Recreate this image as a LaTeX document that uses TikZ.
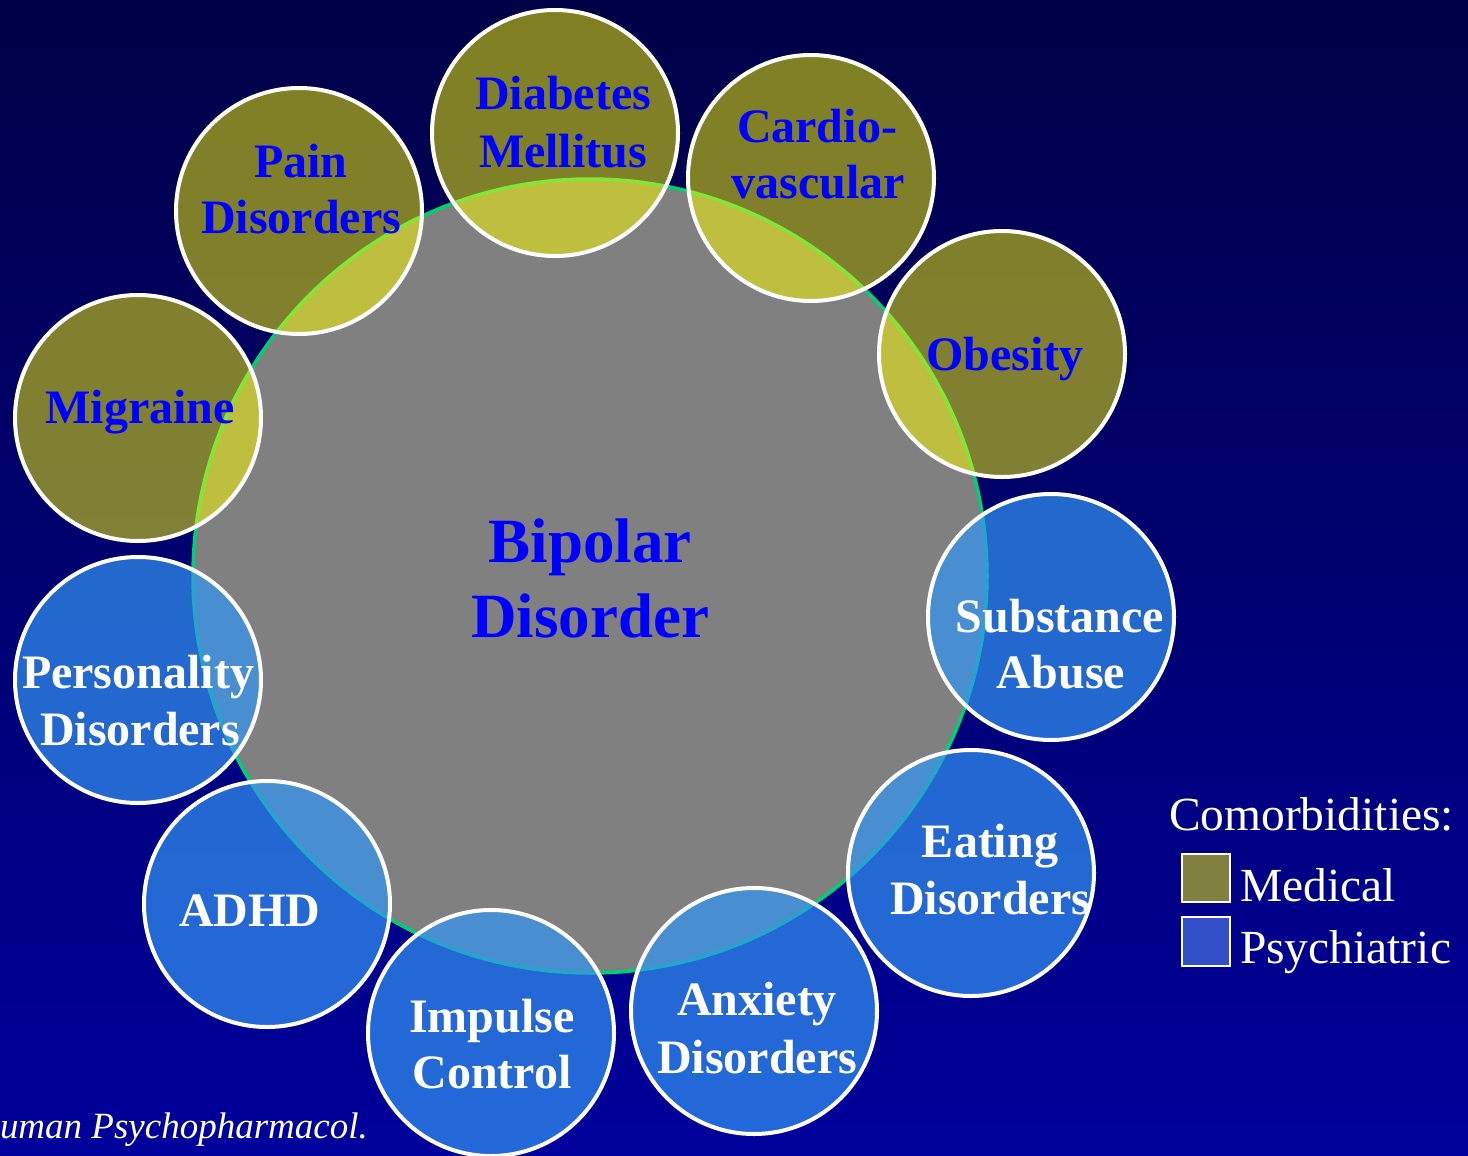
\documentclass[tikz,border=0pt]{standalone}
\usepackage{fontspec}
\setmainfont{Liberation Serif}
\definecolor{bgtop}{RGB}{0,0,70}
\definecolor{bgbot}{RGB}{0,0,156}
\definecolor{bdgray}{RGB}{128,128,128}
\definecolor{ringgreen}{RGB}{0,208,112}
\definecolor{medfill}{RGB}{255,255,0}
\definecolor{psyfill}{RGB}{51,149,244}
\definecolor{medblue}{RGB}{0,0,255}
\definecolor{legmed}{RGB}{128,128,64}
\definecolor{legpsy}{RGB}{52,80,200}
\tikzset{
  medc/.style={circle, minimum size=246pt, inner sep=0pt, outer sep=0pt,
    fill=medfill, fill opacity=0.5, draw=white, draw opacity=1, line width=4pt},
  psyc/.style={circle, minimum size=246pt, inner sep=0pt, outer sep=0pt,
    fill=psyfill, fill opacity=0.7, draw=white, draw opacity=1, line width=4pt},
  medtxt/.style={anchor=base, inner sep=0pt, outer sep=0pt,
    font=\fontsize{48}{56}\selectfont\bfseries, text=medblue},
  psytxt/.style={anchor=base, inner sep=0pt, outer sep=0pt,
    font=\fontsize{48}{56}\selectfont\bfseries, text=white},
  bigtxt/.style={anchor=base, inner sep=0pt, outer sep=0pt,
    font=\fontsize{63}{75}\selectfont\bfseries, text=medblue},
  legtxt/.style={anchor=base west, inner sep=0pt, outer sep=0pt,
    font=\fontsize{47.5}{56}\selectfont, text=white},
  legbox/.style={draw=white, line width=2pt},
}
\begin{document}
\begin{tikzpicture}[x=1pt,y=-1pt]
  % background
  \shade[top color=bgtop, bottom color=bgbot] (0,0) rectangle (1468,1156);
  \useasboundingbox (0,0) rectangle (1468,1156);

  % central circle
  \node[circle, minimum size=794pt, inner sep=0pt, outer sep=0pt,
        fill=bdgray, draw=ringgreen, line width=3.5pt] (bd) at (590,576) {};

  % medical comorbidities
  \node[medc] (dm) at (555,133) {};
  \node[medc] (cv) at (811,178) {};
  \node[medc] (pd) at (299,211) {};
  \node[medc] (mg) at (138,418) {};
  \node[medc] (ob) at (1002,354) {};

  % psychiatric comorbidities
  \node[psyc] (sa) at (1051,617) {};
  \node[psyc] (pe) at (138,680) {};
  \node[psyc] (ed) at (971,873) {};
  \node[psyc] (ad) at (267,904) {};
  \node[psyc] (ax) at (754,1011) {};
  \node[psyc] (ic) at (491,1033) {};

  % central label
  \node[bigtxt] (bd1) at (590,562) {Bipolar};
  \node[bigtxt] (bd2) at (590,637) {Disorder};

  % medical labels
  \node[medtxt] (dm1) at (563,110) {Diabetes};
  \node[medtxt] (dm2) at (563,167) {Mellitus};
  \node[medtxt] (cv1) at (817,142) {Cardio-};
  \node[medtxt] (cv2) at (818,198) {vascular};
  \node[medtxt] (pd1) at (301,177) {Pain};
  \node[medtxt] (pd2) at (301,233) {Disorders};
  \node[medtxt] (mg1) at (140,423) {Migraine};
  \node[medtxt] (ob1) at (1005,370) {Obesity};

  % psychiatric labels
  \node[psytxt] (sa1) at (1060,632) {Substance};
  \node[psytxt] (sa2) at (1061,688) {Abuse};
  \node[psytxt] (pe1) at (138,688) {Personality};
  \node[psytxt] (pe2) at (140,745) {Disorders};
  \node[psytxt] (ed1) at (990,857) {Eating};
  \node[psytxt] (ed2) at (990,914) {Disorders};
  \node[psytxt] (ad1) at (250,926) {ADHD};
  \node[psytxt] (ax1) at (757,1015) {Anxiety};
  \node[psytxt] (ax2) at (757,1073) {Disorders};
  \node[psytxt] (ic1) at (492,1032) {Impulse};
  \node[psytxt] (ic2) at (492,1088) {Control};

  % legend
  \node[legtxt] (lg) at (1169,830) {Comorbidities:};
  \path[legbox, fill=legmed] (1182,854) rectangle (1230,902);
  \path[legbox, fill=legpsy] (1182,917) rectangle (1230,966);
  \node[legtxt] (lgm) at (1240,901) {Medical};
  \node[legtxt] (lgp) at (1240,963) {Psychiatric};

  % reference
  \node[anchor=base west, inner sep=0pt, outer sep=0pt,
        font=\fontsize{37}{44}\selectfont\itshape, text=white] (ref) at (0,1138) {uman Psychopharmacol.};
\end{tikzpicture}
\end{document}
